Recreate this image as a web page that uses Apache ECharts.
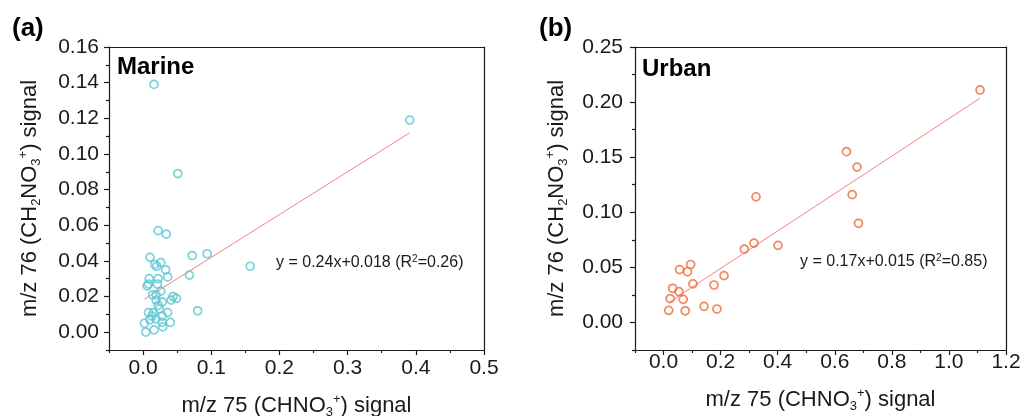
<!DOCTYPE html>
<html>
<head>
<meta charset="utf-8">
<script src="https://cdn.jsdelivr.net/npm/echarts@6/dist/echarts.min.js"></script>
<style>
  html, body { margin: 0; padding: 0; background: #fff; }
  #chart { width: 1029px; height: 416px; }
</style>
</head>
<body>
<div id="chart"></div>
<script>
// Marine samples: m/z 75 vs m/z 76 signal
const marineX = [0.016, 0.391, 0.051, 0.022, 0.034, 0.010, 0.072, 0.094, 0.157, 0.017, 0.020,
  0.026, 0.033, 0.036, 0.068, 0.009, 0.022, 0.006, 0.008, 0.021, 0.026, 0.014, 0.019, 0.044,
  0.049, 0.041, 0.019, 0.028, 0.022, 0.024, 0.008, 0.015, 0.080, 0.036, 0.013, 0.028, 0.010,
  0.019, 0.028, 0.002, 0.040, 0.029, 0.016, 0.004];
const marineY = [0.139, 0.119, 0.089, 0.057, 0.055, 0.042, 0.043, 0.044, 0.037, 0.038, 0.037,
  0.039, 0.035, 0.031, 0.032, 0.030, 0.030, 0.026, 0.027, 0.027, 0.023, 0.021, 0.021, 0.020,
  0.019, 0.018, 0.018, 0.017, 0.015, 0.013, 0.011, 0.011, 0.012, 0.011, 0.009, 0.009, 0.007,
  0.0075, 0.0055, 0.005, 0.0055, 0.003, 0.0013, 0.000];

// Urban samples
const urbanX = [1.109, 0.641, 0.678, 0.661, 0.683, 0.324, 0.317, 0.283, 0.401, 0.095, 0.056,
  0.084, 0.212, 0.103, 0.177, 0.032, 0.054, 0.023, 0.069, 0.142, 0.187, 0.018, 0.076];
const urbanY = [0.211, 0.155, 0.141, 0.116, 0.090, 0.114, 0.072, 0.0665, 0.070, 0.0526, 0.048,
  0.046, 0.0425, 0.035, 0.034, 0.031, 0.028, 0.0216, 0.021, 0.0146, 0.0122, 0.011, 0.0106];

// Linear fits stated in the annotations
const marineFit = { slope: 0.24, intercept: 0.018, r2: '0.26' };
const urbanFit = { slope: 0.17, intercept: 0.015, r2: '0.85' };

// Axis tick values
const marineXTicks = [0, 0.1, 0.2, 0.3, 0.4, 0.5];
const marineXMinor = [-0.05, 0.05, 0.15, 0.25, 0.35, 0.45];
const marineYTicks = [0, 0.02, 0.04, 0.06, 0.08, 0.10, 0.12, 0.14, 0.16];
const marineYMinor = [-0.01, 0.01, 0.03, 0.05, 0.07, 0.09, 0.11, 0.13, 0.15];
const urbanXTicks = [0, 0.2, 0.4, 0.6, 0.8, 1.0, 1.2];
const urbanXMinor = [-0.1, 0.1, 0.3, 0.5, 0.7, 0.9, 1.1];
const urbanYTicks = [0, 0.05, 0.10, 0.15, 0.20, 0.25];
const urbanYMinor = [-0.025, 0.025, 0.075, 0.125, 0.175, 0.225];

const FONT = 'Liberation Sans, Arial, sans-serif';
const AXIS_COLOR = '#1a1a1a';
const MARINE_COLOR = '#5cc6d2';
const URBAN_COLOR = '#ee6b36';
const FIT_COLOR = '#f47f7f';

const pairs = (xs, ys) => xs.map((x, i) => [x, ys[i]]);
const fitLine = (xs, fit) => {
  const lo = Math.min(...xs), hi = Math.max(...xs);
  return [[lo, fit.slope * lo + fit.intercept], [hi, fit.slope * hi + fit.intercept]];
};

const nameRich = {
  n: { fontSize: 22, fontFamily: FONT, color: AXIS_COLOR, lineHeight: 30 },
  sub: { fontSize: 13, fontFamily: FONT, color: AXIS_COLOR, lineHeight: 13, verticalAlign: 'bottom', padding: [0, 0, 2, 0] },
  sup: { fontSize: 13, fontFamily: FONT, color: AXIS_COLOR, lineHeight: 13, verticalAlign: 'top', padding: [2, 0, 0, 0] }
};
const xName = '{n|m/z 75 (CHNO}{sub|3}{sup|+}{n|) signal}';
const yName = '{n|m/z 76 (CH}{sub|2}{n|NO}{sub|3}{sup|+}{n|) signal}';

function mainAxis(opts) {
  return {
    type: 'value',
    gridIndex: opts.grid,
    min: opts.min,
    max: opts.max,
    position: opts.position,
    name: opts.name,
    nameLocation: 'middle',
    nameGap: opts.nameGap,
    nameTextStyle: { rich: nameRich },
    axisLine: { show: true, onZero: false, lineStyle: { color: AXIS_COLOR, width: 1.2 } },
    axisTick: { show: true, length: 5, customValues: opts.ticks, lineStyle: { color: AXIS_COLOR, width: 1.2 } },
    axisLabel: {
      show: true,
      customValues: opts.ticks,
      margin: opts.labelMargin,
      fontSize: 21,
      fontFamily: FONT,
      color: AXIS_COLOR,
      formatter: v => v.toFixed(opts.digits)
    },
    splitLine: { show: false }
  };
}

function minorAxis(opts) {
  return {
    type: 'value',
    gridIndex: opts.grid,
    min: opts.min,
    max: opts.max,
    position: opts.position,
    axisLine: { show: false, onZero: false },
    axisTick: { show: true, length: 3, customValues: opts.ticks, lineStyle: { color: AXIS_COLOR, width: 1.2 } },
    axisLabel: { show: false },
    splitLine: { show: false }
  };
}

// Plain edge on the opposite side to close the plot frame
function frameAxis(opts) {
  return {
    type: 'value',
    gridIndex: opts.grid,
    min: opts.min,
    max: opts.max,
    position: opts.position,
    axisLine: { show: true, onZero: false, lineStyle: { color: AXIS_COLOR, width: 1.2 } },
    axisTick: { show: false },
    axisLabel: { show: false },
    splitLine: { show: false }
  };
}

const option = {
  animation: false,
  backgroundColor: '#ffffff',
  grid: [
    { left: 109, top: 47, width: 375, height: 303, containLabel: false, outerBoundsMode: 'none' },
    { left: 635, top: 47, width: 371, height: 303, containLabel: false, outerBoundsMode: 'none' }
  ],
  xAxis: [
    mainAxis({ grid: 0, min: -0.05, max: 0.5, position: 'bottom', name: xName, nameGap: 41, ticks: marineXTicks, labelMargin: 8, digits: 1 }),
    minorAxis({ grid: 0, min: -0.05, max: 0.5, position: 'bottom', ticks: marineXMinor }),
    frameAxis({ grid: 0, min: -0.05, max: 0.5, position: 'top' }),
    mainAxis({ grid: 1, min: -0.1, max: 1.2, position: 'bottom', name: xName, nameGap: 35, ticks: urbanXTicks, labelMargin: 2, digits: 1 }),
    minorAxis({ grid: 1, min: -0.1, max: 1.2, position: 'bottom', ticks: urbanXMinor }),
    frameAxis({ grid: 1, min: -0.1, max: 1.2, position: 'top' })
  ],
  yAxis: [
    mainAxis({ grid: 0, min: -0.01, max: 0.16, position: 'left', name: yName, nameGap: 64, ticks: marineYTicks, labelMargin: 10, digits: 2 }),
    minorAxis({ grid: 0, min: -0.01, max: 0.16, position: 'left', ticks: marineYMinor }),
    frameAxis({ grid: 0, min: -0.01, max: 0.16, position: 'right' }),
    mainAxis({ grid: 1, min: -0.025, max: 0.25, position: 'left', name: yName, nameGap: 63, ticks: urbanYTicks, labelMargin: 12, digits: 2 }),
    minorAxis({ grid: 1, min: -0.025, max: 0.25, position: 'left', ticks: urbanYMinor }),
    frameAxis({ grid: 1, min: -0.025, max: 0.25, position: 'right' })
  ],
  series: [
    {
      type: 'line', xAxisIndex: 0, yAxisIndex: 0,
      data: fitLine(marineX, marineFit),
      showSymbol: false, symbol: 'none',
      lineStyle: { color: FIT_COLOR, width: 1 }, z: 1
    },
    {
      type: 'scatter', xAxisIndex: 0, yAxisIndex: 0,
      data: pairs(marineX, marineY),
      symbol: 'circle', symbolSize: 8,
      itemStyle: { color: 'rgba(0,0,0,0)', borderColor: MARINE_COLOR, borderWidth: 1.7 }, z: 2
    },
    {
      type: 'line', xAxisIndex: 3, yAxisIndex: 3,
      data: fitLine(urbanX, urbanFit),
      showSymbol: false, symbol: 'none',
      lineStyle: { color: FIT_COLOR, width: 1 }, z: 1
    },
    {
      type: 'scatter', xAxisIndex: 3, yAxisIndex: 3,
      data: pairs(urbanX, urbanY),
      symbol: 'circle', symbolSize: 8,
      itemStyle: { color: 'rgba(0,0,0,0)', borderColor: URBAN_COLOR, borderWidth: 1.7 }, z: 2
    }
  ],
  graphic: [
    { type: 'text', x: 12, y: 29, style: { text: '(a)', font: 'bold 26px ' + FONT, fill: '#000', verticalAlign: 'middle' } },
    { type: 'text', x: 539, y: 29, style: { text: '(b)', font: 'bold 26px ' + FONT, fill: '#000', verticalAlign: 'middle' } },
    { type: 'text', x: 117, y: 67, style: { text: 'Marine', font: 'bold 24px ' + FONT, fill: '#000', verticalAlign: 'middle' } },
    { type: 'text', x: 642, y: 69, style: { text: 'Urban', font: 'bold 24px ' + FONT, fill: '#000', verticalAlign: 'middle' } },
    {
      type: 'text', x: 276, y: 263,
      style: {
        text: '{t|y = ' + marineFit.slope + 'x+' + marineFit.intercept + ' (R}{s|2}{t|=' + marineFit.r2 + ')}',
        verticalAlign: 'middle',
        rich: {
          t: { fontSize: 16, fontFamily: FONT, fill: '#1a1a1a', lineHeight: 20 },
          s: { fontSize: 10, fontFamily: FONT, fill: '#1a1a1a', lineHeight: 10, verticalAlign: 'top', padding: [1, 0, 0, 0] }
        }
      }
    },
    {
      type: 'text', x: 800, y: 262,
      style: {
        text: '{t|y = ' + urbanFit.slope + 'x+' + urbanFit.intercept + ' (R}{s|2}{t|=' + urbanFit.r2 + ')}',
        verticalAlign: 'middle',
        rich: {
          t: { fontSize: 16, fontFamily: FONT, fill: '#1a1a1a', lineHeight: 20 },
          s: { fontSize: 10, fontFamily: FONT, fill: '#1a1a1a', lineHeight: 10, verticalAlign: 'top', padding: [1, 0, 0, 0] }
        }
      }
    }
  ]
};

const chart = echarts.init(document.getElementById('chart'), null, { renderer: 'canvas' });
chart.setOption(option);
</script>
</body>
</html>
